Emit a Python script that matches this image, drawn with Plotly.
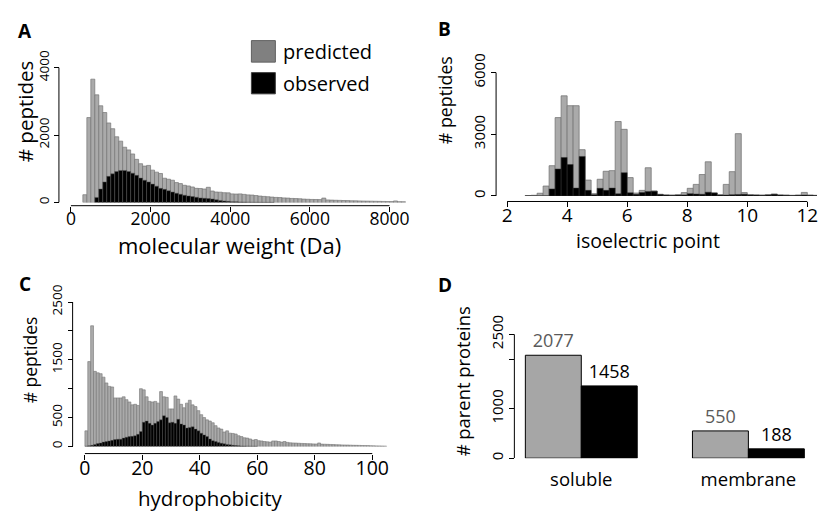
import plotly.graph_objects as go

W, H = 818, 514
FONT = "Open Sans"
HIST_FILL = "#aaaaaa"
HIST_EDGE = "#767676"

# A: molecular weight, 100 Da bins
mw_start, mw_bin = 300, 100
mw_predicted = [230, 2520, 3660, 3195, 2870, 2670, 2360, 2190, 1950, 1820,
                1640, 1560, 1440, 1280, 1150, 1080, 1100, 960, 900, 860,
                720, 690, 660, 590, 560, 510, 490, 460, 420, 415,
                400, 450, 340, 310, 305, 290, 285, 255, 250, 255,
                240, 225, 220, 205, 190, 180, 170, 160, 150, 145,
                135, 130, 120, 115, 110, 100, 95, 90, 88, 85,
                130, 75, 70, 65, 62, 58, 55, 50, 48, 45,
                42, 40, 38, 35, 33, 30, 28, 26, 45, 24,
                22]
mw_obs_start = 600
mw_observed = [150, 400, 610, 775, 850, 920, 950, 950, 920, 870,
               805, 725, 660, 610, 545, 485, 420, 390, 350, 310,
               275, 245, 215, 195, 175, 155, 135, 125, 115, 105,
               80, 60, 45, 35, 25, 20, 15, 12, 10, 8,
               6, 5, 4, 3, 3]
mw_xticks = [0, 2000, 4000, 6000, 8000]
mw_yticks = [0, 2000, 4000]

# B: isoelectric point, 0.2 bins
pi_start, pi_bin = 2.6, 0.2
pi_predicted = [20, 30, 130, 480, 1470, 3810, 4870, 4390, 4390, 2250,
                770, 110, 810, 1200, 1230, 3620, 3240, 890, 140, 270,
                1370, 240, 80, 50, 40, 60, 160, 370, 560, 1040,
                1660, 150, 60, 560, 1180, 3030, 160, 60, 50, 40,
                60, 90, 50, 40, 30, 40, 170, 40, 30]
pi_observed = [0, 0, 0, 0, 340, 1310, 1870, 1530, 380, 1920,
               270, 60, 370, 270, 380, 100, 1130, 150, 80, 170,
               220, 230, 70, 40, 30, 40, 50, 110, 90, 80,
               180, 140, 40, 40, 60, 70, 80, 50, 40, 30,
               50, 80, 40, 30, 20, 30, 40, 30, 20]
pi_xticks = [2, 4, 6, 8, 10, 12]
pi_yticks = [0, 3000, 6000]

# C: hydrophobicity, unit bins
hy_start, hy_bin = 0, 1
hy_predicted = [270, 1470, 2090, 1300, 1275, 1260, 1200, 1100, 1040, 1030,
                840, 840, 840, 860, 810, 770, 720, 730, 710, 1000,
                980, 860, 780, 770, 780, 750, 950, 860, 850, 650,
                650, 875, 820, 730, 670, 750, 800, 720, 690, 620,
                550, 500, 460, 440, 410, 360, 320, 300, 250, 270,
                230, 225, 215, 185, 170, 150, 145, 130, 110, 120,
                100, 95, 85, 80, 75, 95, 95, 85, 75, 85,
                70, 62, 60, 58, 55, 52, 50, 48, 46, 44,
                42, 60, 40, 38, 36, 34, 32, 30, 28, 26,
                25, 24, 22, 20, 19, 18, 16, 15, 14, 12,
                10, 9, 8, 6, 5]
hy_observed = [5, 10, 20, 35, 50, 60, 75, 85, 95, 105,
               120, 125, 125, 145, 160, 170, 175, 185, 210, 260,
               420, 440, 400, 370, 400, 430, 460, 530, 500, 410,
               420, 400, 470, 390, 370, 320, 330, 340, 300, 270,
               230, 200, 170, 130, 100, 85, 70, 55, 45, 35,
               28, 20, 15, 10, 8, 6, 5, 4, 3, 3]
hy_xticks = [0, 20, 40, 60, 80, 100]
hy_yticks = [0, 500, 1000, 1500, 2000, 2500]
hy_ylabels = ["0", "500", "", "1500", "", "2500"]

# D: parent proteins
groups = ["soluble", "membrane"]
parent_predicted = [2077, 550]
parent_observed = [1458, 188]
parent_yticks = [0, 1000, 2000, 2500]
parent_ylabels = ["0", "1000", "", "2500"]


def px(x):
    return x / W


def py(y):
    return 1 - y / H


def fit(d0, d1, va, pa, vb, pb):
    # range for a domain spanning pixels d0..d1 so that va sits at pa and vb at pb
    k = (pb - pa) / (vb - va)
    return [va + (d0 - pa) / k, va + (d1 - pa) / k]


def hist(fig, start, bw, vals, ax, fill, edge, lw):
    x = [start + i * bw for i in range(len(vals))]
    fig.add_trace(go.Bar(x=x, y=vals, width=bw, offset=0, xaxis=ax[0], yaxis=ax[1],
                         marker=dict(color=fill, line=dict(color=edge, width=lw)),
                         showlegend=False, hoverinfo="skip"))


def xaxis(dom, rng, pos, tv, size, **kw):
    d = dict(domain=[px(dom[0]), px(dom[1])], range=rng, anchor="free", position=py(pos),
             tickvals=tv, ticks="outside", ticklen=5, tickwidth=1, tickcolor="black",
             ticklabelstandoff=-8,
             showline=False, showgrid=False, zeroline=False,
             tickfont=dict(family=FONT, size=size, color="black"))
    d.update(kw)
    return d


def yaxis(dom, rng, pos, tv, size, **kw):
    d = dict(domain=[py(dom[0]), py(dom[1])], range=rng, anchor="free", position=px(pos),
             tickvals=tv, ticks="outside", ticklen=5, tickwidth=1, tickcolor="black",
             tickangle=-90, showline=False, showgrid=False, zeroline=False,
             tickfont=dict(family=FONT, size=size, color="black"))
    d.update(kw)
    return d


def hline(xref, v0, v1, y):
    return dict(type="line", xref=xref, yref="paper", x0=v0, x1=v1, y0=py(y), y1=py(y),
                line=dict(color="black", width=1))


def vline(yref, v0, v1, x):
    return dict(type="line", xref="paper", yref=yref, x0=px(x), x1=px(x), y0=v0, y1=v1,
                line=dict(color="black", width=1))


def label(text, x, y, size, angle=0, color="black", xanchor="center"):
    return dict(text=text, x=px(x), y=py(y), xref="paper", yref="paper", showarrow=False,
                xanchor=xanchor, yanchor="middle", textangle=angle,
                font=dict(family=FONT, size=size, color=color))


fig = go.Figure()

hist(fig, mw_start, mw_bin, mw_predicted, ("x", "y"), HIST_FILL, HIST_EDGE, 0.7)
hist(fig, mw_obs_start, mw_bin, mw_observed, ("x", "y"), "black", "#5a5a5a", 0.5)
hist(fig, pi_start, pi_bin, pi_predicted, ("x2", "y2"), HIST_FILL, HIST_EDGE, 0.8)
hist(fig, pi_start, pi_bin, pi_observed, ("x2", "y2"), "black", "#333333", 0.5)
hist(fig, hy_start, hy_bin, hy_predicted, ("x3", "y3"), HIST_FILL, HIST_EDGE, 0.6)
hist(fig, hy_start, hy_bin, hy_observed, ("x3", "y3"), "black", "#5a5a5a", 0.4)

bw_d = 56 / 167.3
fig.add_trace(go.Bar(x=groups, y=parent_predicted, width=bw_d, offset=-bw_d, xaxis="x4", yaxis="y4",
                     marker=dict(color="#a6a6a6", line=dict(color="black", width=1)),
                     text=[str(v) for v in parent_predicted], textposition="outside",
                     textfont=dict(family=FONT, size=18, color="#5a5a5a"), constraintext="none",
                     cliponaxis=False, showlegend=False, hoverinfo="skip"))
fig.add_trace(go.Bar(x=groups, y=parent_observed, width=bw_d, offset=0, xaxis="x4", yaxis="y4",
                     marker=dict(color="black", line=dict(color="black", width=1)),
                     text=[str(v) for v in parent_observed], textposition="outside",
                     textfont=dict(family=FONT, size=18, color="black"), constraintext="none",
                     cliponaxis=False, showlegend=False, hoverinfo="skip"))

fig.update_layout(
    width=W, height=H, margin=dict(l=0, r=0, t=0, b=0),
    paper_bgcolor="white", plot_bgcolor="white", barmode="overlay",
    xaxis=xaxis((62, 410), fit(62, 410, 0, 71, 8000, 390), 201, mw_xticks, 17.5),
    yaxis=yaxis((197.7, 50), fit(197.7, 50, 0, 197.7, 4000, 60), 59, mw_yticks, 13.5),
    xaxis2=xaxis((499, 818), fit(499, 818, 2, 507.7, 12, 808.3), 196.7, pi_xticks, 19,
                 ticklabeloverflow="allow"),
    yaxis2=yaxis((191, 55), fit(191, 55, 0, 191, 6000, 65), 496.7, pi_yticks, 15),
    xaxis3=xaxis((76, 395), fit(76, 395, 0, 85, 100, 372.7), 454.3, hy_xticks, 19.5),
    yaxis3=yaxis((447, 290), fit(447, 290, 0, 447, 2500, 299.5), 72.7, hy_yticks, 13.5,
                 ticktext=hy_ylabels),
    xaxis4=xaxis((517, 818), fit(517, 818, 0, 582, 1, 749.3), 476, None, 18.5,
                 type="category", categoryorder="array", categoryarray=groups, ticks=""),
    yaxis4=yaxis((459, 320), fit(459, 320, 0, 459, 2500, 332.4), 515, parent_yticks, 15,
                 ticktext=parent_ylabels),
    shapes=[
        hline("x", 0, 8000, 201), vline("y", 0, 4000, 59),
        hline("x2", 2, 12, 196.7), vline("y2", 0, 6000, 496.7),
        hline("x3", 0, 100, 454.3), vline("y3", 0, 2500, 72.7),
        vline("y4", 0, 2500, 515),
        dict(type="rect", xref="paper", yref="paper", x0=px(251.7), x1=px(275.7),
             y0=py(54.3), y1=py(32.3), fillcolor="#808080", line=dict(color="#606060", width=1)),
        dict(type="rect", xref="paper", yref="paper", x0=px(251.7), x1=px(275.7),
             y0=py(86.7), y1=py(65), fillcolor="black", line=dict(color="#404040", width=1)),
    ],
    annotations=[
        label("<b>A</b>", 25.5, 22.5, 19),
        label("<b>B</b>", 445, 20, 19),
        label("<b>C</b>", 25, 281.5, 19),
        label("<b>D</b>", 445.5, 282, 19),
        label("predicted", 281.7, 43, 20, xanchor="left"),
        label("observed", 281.7, 76, 20, xanchor="left"),
        label("molecular weight (Da)", 230, 241.5, 22),
        label("# peptides", 25, 104.5, 20.5, angle=-90),
        label("isoelectric point", 648.3, 236.5, 19.5),
        label("# peptides", 445, 92.7, 17.8, angle=-90),
        label("hydrophobicity", 210.7, 500, 20.5),
        label("# peptides", 30, 358, 17.5, angle=-90),
        label("# parent proteins", 463, 380, 18.4, angle=-90),
    ],
)

fig.write_html("out.html", config={"displayModeBar": False},
               post_script="document.body.style.margin = '0';")
